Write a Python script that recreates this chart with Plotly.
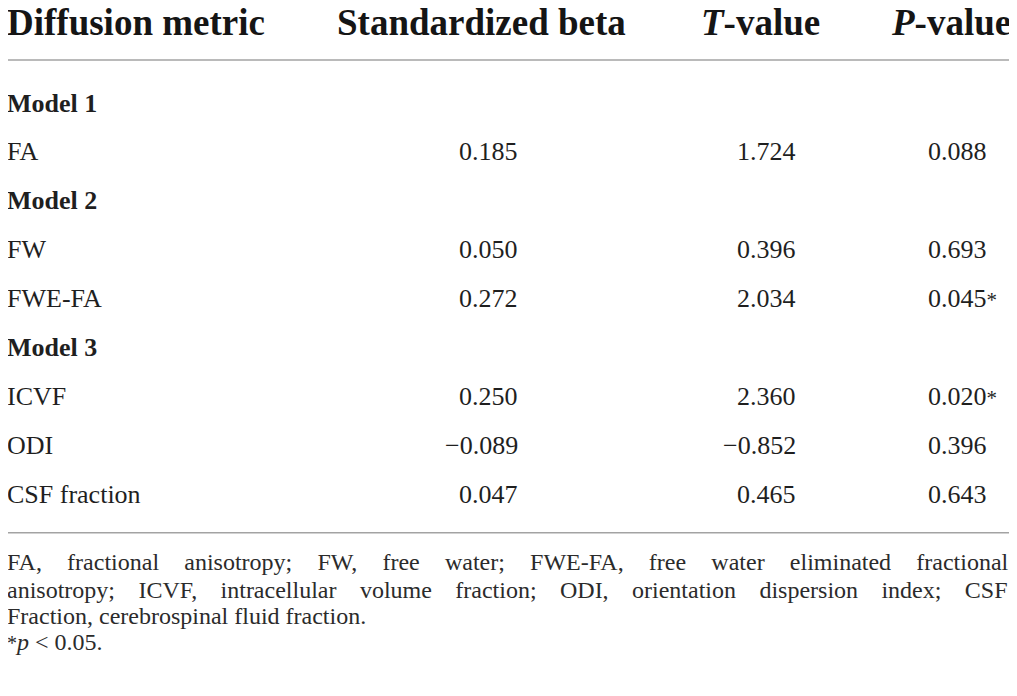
import plotly.graph_objects as go

# table data
headers = ["Diffusion metric", "Standardized beta", "<i>T</i>-value", "<i>P</i>-value"]
models = ["Model 1", "Model 2", "Model 3"]
metrics = ["FA", "FW", "FWE-FA", "ICVF", "ODI", "CSF fraction"]
metric_model = ["Model 1", "Model 2", "Model 2", "Model 3", "Model 3", "Model 3"]
beta = [0.185, 0.050, 0.272, 0.250, -0.089, 0.047]
t_values = [1.724, 0.396, 2.034, 2.360, -0.852, 0.465]
p_values = [0.088, 0.693, 0.045, 0.020, 0.396, 0.643]
footnotes = [
    "FA, fractional anisotropy; FW, free water; FWE-FA, free water eliminated fractional",
    "anisotropy; ICVF, intracellular volume fraction; ODI, orientation dispersion index; CSF",
    "Fraction, cerebrospinal fluid fraction.",
    "<span style='font-size:20px'>*</span><i>p</i> &lt; 0.05.",
]

SERIF = "Liberation Serif"
INK = "#1f1f1f"
RULE = "#a3a3a3"
LEFT = 8  # left text edge (page has an 8px body margin)


def fmt(v):
    s = f"{v:.3f}"
    return s.replace("-", "\u2212")


# build row order: model heading then its metrics
rows = []
for m in models:
    rows.append(("model", m, None))
    for i, name in enumerate(metrics):
        if metric_model[i] == m:
            rows.append(("metric", name, i))

fig = go.Figure()
ann = []
body = dict(family=SERIF, size=26, color=INK)

for r, (kind, label, i) in enumerate(rows):
    if kind == "model":
        ann.append(dict(x=LEFT, xshift=-3, y=r, text=f"<b>{label}</b>",
                        xanchor="left", font=body))
        continue
    ann.append(dict(x=LEFT, xshift=-3, y=r, text=label, xanchor="left", font=body))
    ann.append(dict(x=520, y=r, text=fmt(beta[i]), xanchor="right", font=body))
    ann.append(dict(x=798, y=r, text=fmt(t_values[i]), xanchor="right", font=body))
    star = "<span style='font-size:21px'>*</span>" if p_values[i] < 0.05 else ""
    ann.append(dict(x=926, y=r, text=fmt(p_values[i]) + star, xanchor="left", font=body))

# header
head_y = -1.66
head_font = dict(family=SERIF, size=37, color="#151515")
head_x = [(LEFT, "left", -3), (481, "center", 0), (760, "center", 0), (1013, "right", 0)]
for h, (hx, anc, sh) in zip(headers, head_x):
    ann.append(dict(x=hx, xshift=sh, y=head_y, text=f"<b>{h}</b>", xanchor=anc,
                    font=head_font, height=28))

# footnotes (first two lines justified with word spacing)
foot_font = dict(family=SERIF, size=24, color="#2b2b2b")
foot_y = [9.39, 9.96, 10.5, 11.02]
spacing = ["19.2px", "17.4px", "0px", "0px"]
for t, fy, ws in zip(footnotes, foot_y, spacing):
    ann.append(dict(x=LEFT, xshift=-3, y=fy,
                    text=f"<span style='word-spacing:{ws}'>{t}</span>",
                    xanchor="left", font=foot_font))

for a in ann:
    a.update(xref="x", yref="y", showarrow=False, yanchor="middle")

# figure covers page pixels 8..1017 / 8..696; x data = page pixels,
# y data = row index (row r sits at page y = 103 + 48.9 r)
fig.update_layout(
    width=1009, height=688,
    margin=dict(l=0, r=0, t=0, b=0),
    paper_bgcolor="white", plot_bgcolor="white",
    annotations=ann,
    xaxis=dict(range=[8, 1017], visible=False, fixedrange=True),
    yaxis=dict(range=[12.127, -1.943], visible=False, fixedrange=True),
    showlegend=False,
    shapes=[
        dict(type="line", xref="x", yref="y", x0=8, x1=1010, y0=-0.88, y1=-0.88,
             line=dict(color=RULE, width=1.5)),
        dict(type="line", xref="x", yref="y", x0=8, x1=1010, y0=8.79, y1=8.79,
             line=dict(color=RULE, width=1.5)),
    ],
)

fig.write_html("out.html")
